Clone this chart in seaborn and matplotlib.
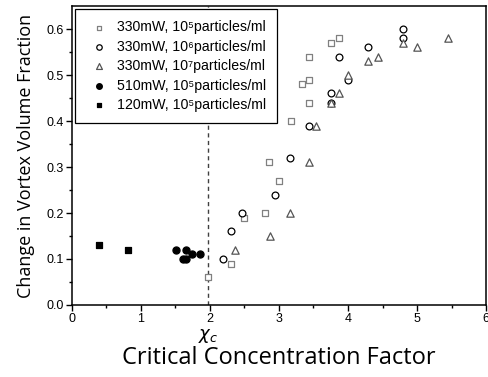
import matplotlib
matplotlib.use("Agg")
import matplotlib.pyplot as plt
import numpy as np
import pandas as pd
import seaborn as sns

# 330mW, 10^5 particles/ml (open squares)
sq_x = [1.97, 2.30, 2.50, 2.80, 2.85, 3.00, 3.17, 3.33, 3.43, 3.43, 3.43, 3.75, 3.87]
sq_y = [0.06, 0.09, 0.19, 0.20, 0.31, 0.27, 0.40, 0.48, 0.49, 0.44, 0.54, 0.57, 0.58]
# 330mW, 10^6 (open circles)
ci_x = [2.19, 2.30, 2.46, 2.94, 3.16, 3.43, 3.75, 3.75, 3.87, 4.00, 4.29, 4.80, 4.80]
ci_y = [0.10, 0.16, 0.20, 0.24, 0.32, 0.39, 0.46, 0.44, 0.54, 0.49, 0.56, 0.60, 0.58]
# 330mW, 10^7 (open triangles)
tr_x = [2.36, 2.87, 3.16, 3.43, 3.54, 3.75, 3.87, 4.00, 4.29, 4.43, 4.80, 5.00, 5.45]
tr_y = [0.12, 0.15, 0.20, 0.31, 0.39, 0.44, 0.46, 0.50, 0.53, 0.54, 0.57, 0.56, 0.58]
# 510mW, 10^5 (filled circles)
fc_x = [1.51, 1.65, 1.61, 1.66, 1.74, 1.86]
fc_y = [0.12, 0.12, 0.10, 0.10, 0.11, 0.11]
# 120mW, 10^5 (filled squares)
fs_x = [0.40, 0.81]
fs_y = [0.13, 0.12]

chi_c = 1.97

labels = ["330mW, 10\u2075particles/ml", "330mW, 10\u2076particles/ml",
          "330mW, 10\u2077particles/ml", "510mW, 10\u2075particles/ml",
          "120mW, 10\u2075particles/ml"]

series = [
    (sq_x, sq_y, 's', 'white', '#808080', 14),
    (ci_x, ci_y, 'o', 'white', 'black', 24),
    (tr_x, tr_y, '^', 'white', '#555555', 28),
    (fc_x, fc_y, 'o', 'black', 'black', 26),
    (fs_x, fs_y, 's', 'black', 'black', 18),
]

sns.set_style("ticks")
plt.rcParams['font.family'] = ['Liberation Sans', 'DejaVu Sans']
plt.rcParams['text.color'] = 'black'
plt.rcParams['axes.labelcolor'] = 'black'
plt.rcParams['xtick.color'] = 'black'
plt.rcParams['ytick.color'] = 'black'

fig = plt.figure(figsize=(4.89, 3.77), dpi=100)
ax = fig.add_axes([0.147, 0.191, 0.847, 0.793])

for (xs, ys, m, fc, ec, s), lab in zip(series, labels):
    df = pd.DataFrame({'x': xs, 'y': ys})
    sns.scatterplot(data=df, x='x', y='y', marker=m, s=s, facecolor=fc,
                    edgecolor=ec, linewidth=0.9, label=lab, ax=ax, zorder=3)

ax.axvline(chi_c, color='#404040', linestyle=(0, (3, 2.5)), linewidth=1.0, zorder=1)

ax.set_xlim(0, 6)
ax.set_ylim(0, 0.65)
ax.set_xticks(np.arange(0, 7, 1))
ax.set_xticks(np.arange(0.5, 6, 1), minor=True)
ax.set_yticks(np.arange(0, 0.61, 0.1))
ax.set_yticks(np.arange(0.05, 0.65, 0.1), minor=True)
ax.set_yticklabels([f"{v:.1f}" for v in np.arange(0, 0.61, 0.1)])
ax.tick_params(axis='both', which='major', direction='out', length=4, width=1,
               labelsize=9, pad=2, color='black', labelcolor='black')
ax.tick_params(axis='both', which='minor', direction='out', length=2.5, width=1,
               color='black')
for sp in ax.spines.values():
    sp.set_linewidth(1.1)
    sp.set_color('black')

ax.set_xlabel("Critical Concentration Factor", fontsize=17, family='Open Sans',
              labelpad=15, color='black')
ax.set_ylabel("Change in Vortex Volume Fraction", fontsize=13,
              family='Open Sans', labelpad=8, color='black')
ax.text(chi_c, -0.068, r"$\chi_c$", fontsize=13, ha='center', va='center',
        transform=ax.transData, family='DejaVu Serif', color='black')

leg = ax.legend(loc='upper left', bbox_to_anchor=(0.007, 0.99), fontsize=10.2,
                frameon=True, fancybox=False, framealpha=1, edgecolor='black',
                handletextpad=0.35, labelspacing=0.38, borderpad=0.8,
                borderaxespad=0, handlelength=1.8, markerscale=0.8)
leg.get_frame().set_linewidth(0.9)
leg.set_zorder(5)
for t in leg.get_texts():
    t.set_color('black')

fig.savefig("out.png", dpi=100)
